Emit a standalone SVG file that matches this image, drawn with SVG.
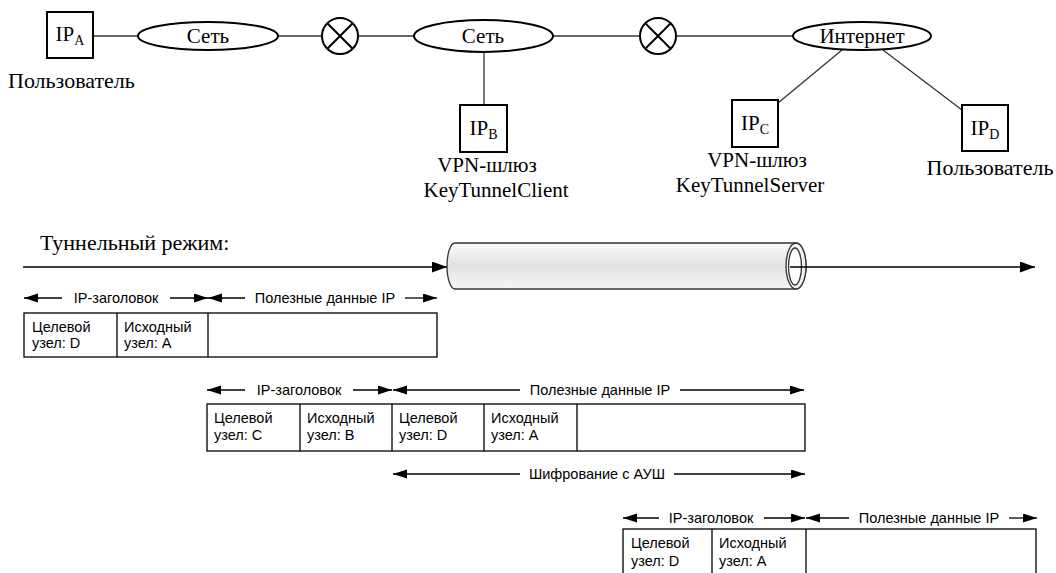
<svg xmlns="http://www.w3.org/2000/svg" width="1056" height="573" viewBox="0 0 1056 573">
<style>
.serif{font-family:"Liberation Serif","Times New Roman",serif;font-size:21px;fill:#000}
.lg{font-size:22px}
.sub{font-size:14px}
.sans{font-family:"Liberation Sans",Arial,sans-serif;font-size:14.5px;fill:#000}
.node{fill:#fff;stroke:#000;stroke-width:2}
.conn{stroke:#333;stroke-width:1.3;fill:none}
.pkt{fill:#fff;stroke:#000;stroke-width:1.3}
.arrE{stroke:#000;stroke-width:1.3;fill:none;marker-end:url(#ah)}
.arrS{stroke:#000;stroke-width:1.3;fill:none;marker-start:url(#ahs)}
.big{stroke:#000;stroke-width:1.5;fill:none;marker-end:url(#bah)}
</style>
<defs>
<marker id="ah" markerUnits="userSpaceOnUse" markerWidth="15" markerHeight="10" refX="14" refY="4.5" orient="auto"><path d="M0,0 L14,4.5 L0,9 z" fill="#000"/></marker>
<marker id="ahs" markerUnits="userSpaceOnUse" markerWidth="15" markerHeight="10" refX="14" refY="4.5" orient="auto-start-reverse"><path d="M0,0 L14,4.5 L0,9 z" fill="#000"/></marker>
<marker id="bah" markerUnits="userSpaceOnUse" markerWidth="16" markerHeight="12" refX="15" refY="5.5" orient="auto"><path d="M0,0 L15,5.5 L0,11 z" fill="#000"/></marker>
<linearGradient id="tg" x1="0" y1="0" x2="0" y2="1">
<stop offset="0" stop-color="#fbfbfb"/>
<stop offset="0.5" stop-color="#e2e2e2"/>
<stop offset="1" stop-color="#f6f6f6"/>
</linearGradient>
</defs>

<g id="connectors">
<line class="conn" x1="93" y1="36" x2="138" y2="36"/>
<line class="conn" x1="278" y1="36" x2="322" y2="36"/>
<line class="conn" x1="358" y1="36" x2="414" y2="36"/>
<line class="conn" x1="553" y1="36" x2="640" y2="36"/>
<line class="conn" x1="676" y1="36" x2="793" y2="36"/>
<line class="conn" x1="484" y1="52" x2="484" y2="105"/>
<line class="conn" x1="842" y1="50" x2="778" y2="103"/>
<line class="conn" x1="883" y1="50" x2="962" y2="110"/>
</g>

<g id="ipA">
<rect class="node" x="47" y="12" width="46" height="46"/>
<text class="serif" x="70" y="41" text-anchor="middle">IP<tspan class="sub" dy="4">A</tspan></text>
<text class="serif lg" x="8" y="88">Пользователь</text>
</g>
<g id="net1">
<ellipse class="node" cx="208" cy="36" rx="70" ry="14"/>
<text class="serif" x="208" y="43" text-anchor="middle">Сеть</text>
</g>
<g id="cross1">
<circle class="node" cx="340" cy="36" r="18"/>
<path d="M327.3,23.3 L352.7,48.7 M352.7,23.3 L327.3,48.7" stroke="#000" stroke-width="2"/>
</g>
<g id="net2">
<ellipse class="node" cx="483.5" cy="36" rx="69.5" ry="16"/>
<text class="serif" x="483" y="43" text-anchor="middle">Сеть</text>
</g>
<g id="cross2">
<circle class="node" cx="658" cy="36" r="18"/>
<path d="M645.3,23.3 L670.7,48.7 M670.7,23.3 L645.3,48.7" stroke="#000" stroke-width="2"/>
</g>
<g id="internet">
<ellipse class="node" cx="862" cy="36" rx="69" ry="14"/>
<text class="serif" x="862" y="43" text-anchor="middle">Интернет</text>
</g>
<g id="ipB">
<rect class="node" x="460" y="105" width="47" height="47"/>
<text class="serif" x="483.5" y="135" text-anchor="middle">IP<tspan class="sub" dy="4">B</tspan></text>
<text class="serif" x="487" y="172" text-anchor="middle">VPN-шлюз</text>
<text class="serif" x="496" y="197" text-anchor="middle">KeyTunnelClient</text>
</g>
<g id="ipC">
<rect class="node" x="732" y="100" width="46" height="47"/>
<text class="serif" x="755" y="130" text-anchor="middle">IP<tspan class="sub" dy="4">C</tspan></text>
<text class="serif" x="757" y="167" text-anchor="middle">VPN-шлюз</text>
<text class="serif" x="750" y="192" text-anchor="middle">KeyTunnelServer</text>
</g>
<g id="ipD">
<rect class="node" x="962" y="105" width="46" height="46"/>
<text class="serif" x="985" y="135" text-anchor="middle">IP<tspan class="sub" dy="4">D</tspan></text>
<text class="serif lg" x="990" y="175" text-anchor="middle">Пользователь</text>
</g>

<g id="tunnel">
<text class="serif lg" x="40" y="250">Туннельный режим:</text>
<line class="big" x1="23" y1="267" x2="447" y2="267"/>
<path d="M455,243 L796,243 A10,23 0 0 1 796,289 L455,289 A8,23 0 0 1 455,243 Z" fill="url(#tg)" stroke="#333" stroke-width="1.3"/>
<ellipse cx="796" cy="266" rx="10" ry="23" fill="#f2f2f2" stroke="#333" stroke-width="1.3"/>
<ellipse cx="795" cy="266.5" rx="6.5" ry="18.5" fill="#fff" stroke="#333" stroke-width="1.3"/>
<line class="big" x1="790" y1="267" x2="1035" y2="267"/>
</g>

<g id="packet1">
<line class="arrS" x1="24" y1="298" x2="62" y2="298"/>
<text class="sans" x="116" y="303" text-anchor="middle">IP-заголовок</text>
<line class="arrE" x1="170" y1="298" x2="208" y2="298"/>
<line class="arrS" x1="208" y1="298" x2="245" y2="298"/>
<text class="sans" x="325" y="303" text-anchor="middle">Полезные данные IP</text>
<line class="arrE" x1="405" y1="298" x2="437" y2="298"/>
<rect class="pkt" x="24" y="313" width="413" height="44"/>
<line class="pkt" x1="117" y1="313" x2="117" y2="357"/>
<line class="pkt" x1="208" y1="313" x2="208" y2="357"/>
<text class="sans" x="32" y="332">Целевой</text>
<text class="sans" x="32" y="348">узел: D</text>
<text class="sans" x="124" y="332">Исходный</text>
<text class="sans" x="124" y="348">узел: A</text>
</g>

<g id="packet2">
<line class="arrS" x1="207" y1="390" x2="245" y2="390"/>
<text class="sans" x="299" y="395" text-anchor="middle">IP-заголовок</text>
<line class="arrE" x1="353" y1="390" x2="392" y2="390"/>
<line class="arrS" x1="393" y1="390" x2="520" y2="390"/>
<text class="sans" x="600" y="395" text-anchor="middle">Полезные данные IP</text>
<line class="arrE" x1="680" y1="390" x2="804" y2="390"/>
<rect class="pkt" x="207" y="404" width="598" height="47"/>
<line class="pkt" x1="300" y1="404" x2="300" y2="451"/>
<line class="pkt" x1="392" y1="404" x2="392" y2="451"/>
<line class="pkt" x1="484" y1="404" x2="484" y2="451"/>
<line class="pkt" x1="577" y1="404" x2="577" y2="451"/>
<text class="sans" x="214" y="423">Целевой</text>
<text class="sans" x="214" y="440">узел: C</text>
<text class="sans" x="307" y="423">Исходный</text>
<text class="sans" x="307" y="440">узел: B</text>
<text class="sans" x="399" y="423">Целевой</text>
<text class="sans" x="399" y="440">узел: D</text>
<text class="sans" x="491" y="423">Исходный</text>
<text class="sans" x="491" y="440">узел: A</text>
<line class="arrS" x1="393" y1="474" x2="520" y2="474"/>
<text class="sans" x="597" y="479" text-anchor="middle">Шифрование с АУШ</text>
<line class="arrE" x1="674" y1="474" x2="805" y2="474"/>
</g>

<g id="packet3">
<line class="arrS" x1="623" y1="518" x2="659" y2="518"/>
<text class="sans" x="711" y="523" text-anchor="middle">IP-заголовок</text>
<line class="arrE" x1="764" y1="518" x2="805" y2="518"/>
<line class="arrS" x1="806" y1="518" x2="849" y2="518"/>
<text class="sans" x="929" y="523" text-anchor="middle">Полезные данные IP</text>
<line class="arrE" x1="1009" y1="518" x2="1037" y2="518"/>
<rect class="pkt" x="623" y="529" width="413" height="50"/>
<line class="pkt" x1="712" y1="529" x2="712" y2="579"/>
<line class="pkt" x1="806" y1="529" x2="806" y2="579"/>
<text class="sans" x="631" y="548">Целевой</text>
<text class="sans" x="631" y="566">узел: D</text>
<text class="sans" x="719" y="548">Исходный</text>
<text class="sans" x="719" y="566">узел: A</text>
</g>
</svg>
